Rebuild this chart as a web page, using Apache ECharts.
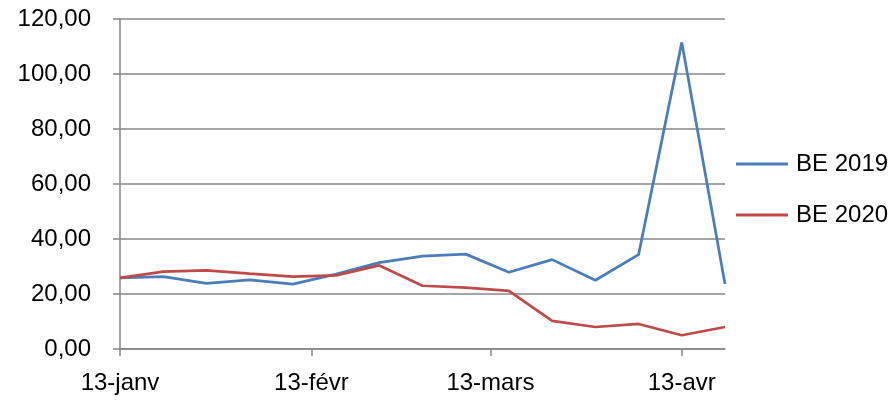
<!DOCTYPE html>
<html>
<head>
<meta charset="utf-8">
<script src="https://cdn.jsdelivr.net/npm/echarts@6/dist/echarts.min.js"></script>
<style>
html,body{margin:0;padding:0;background:#fff;}
#chart{width:894px;height:400px;}
</style>
</head>
<body>
<div id="chart"></div>
<script>
// Days since 13 January (weekly observations)
const dayOffsets = [0, 7, 14, 21, 28, 35, 42, 49, 56, 63, 70, 77, 84, 91, 98];
const be2019 = [25.9, 26.3, 23.9, 25.1, 23.6, 27.2, 31.4, 33.8, 34.5, 27.9, 32.5, 25.0, 34.3, 111.5, 23.6];
const be2020 = [25.9, 28.1, 28.6, 27.4, 26.3, 26.8, 30.4, 23.0, 22.3, 21.1, 10.2, 8.0, 9.1, 5.0, 8.0];
const tickDays = [0, 31, 60, 91];
const tickLabels = ['13-janv', '13-févr', '13-mars', '13-avr'];
const seriesNames = ['BE 2019', 'BE 2020'];

const FONT = '"Liberation Sans", Arial, sans-serif';
const GRID = '#878787';
const pairs = arr => arr.map((v, i) => [dayOffsets[i], v]);

const chart = echarts.init(document.getElementById('chart'), null, {renderer: 'canvas'});
chart.setOption({
  animation: false,
  color: ['#4A7EBB', '#BE4B48'],
  grid: {left: 120, right: 169, top: 19, bottom: 51, containLabel: false},
  legend: {
    orient: 'vertical',
    left: 736,
    top: 152,
    padding: 0,
    itemWidth: 52,
    itemHeight: 3,
    itemGap: 27,
    icon: 'rect',
    data: seriesNames,
    textStyle: {fontFamily: FONT, fontSize: 24, color: '#000', lineHeight: 24, padding: [0, 0, 0, 3]}
  },
  xAxis: {
    type: 'value',
    min: 0,
    max: 98,
    splitLine: {show: false},
    axisLine: {show: true, lineStyle: {color: GRID, width: 1.5}},
    axisTick: {show: true, length: 7, customValues: tickDays, lineStyle: {color: GRID, width: 1.5}},
    axisLabel: {
      customValues: tickDays,
      margin: 22,
      fontFamily: FONT, fontSize: 24, color: '#000',
      formatter: v => tickLabels[tickDays.indexOf(v)]
    }
  },
  yAxis: {
    type: 'value',
    min: 0,
    max: 120,
    interval: 20,
    axisLine: {show: true, lineStyle: {color: GRID, width: 1.5}},
    axisTick: {show: true, length: 7, lineStyle: {color: GRID, width: 1.5}},
    splitLine: {show: true, lineStyle: {color: GRID, width: 1.5}},
    axisLabel: {
      margin: 29,
      fontFamily: FONT, fontSize: 24, color: '#000',
      formatter: v => v.toFixed(2).replace('.', ',')
    }
  },
  series: [
    {name: seriesNames[0], type: 'line', data: pairs(be2019), showSymbol: false, symbol: 'none', lineStyle: {width: 2.75}},
    {name: seriesNames[1], type: 'line', data: pairs(be2020), showSymbol: false, symbol: 'none', lineStyle: {width: 2.75}}
  ]
});
</script>
</body>
</html>
